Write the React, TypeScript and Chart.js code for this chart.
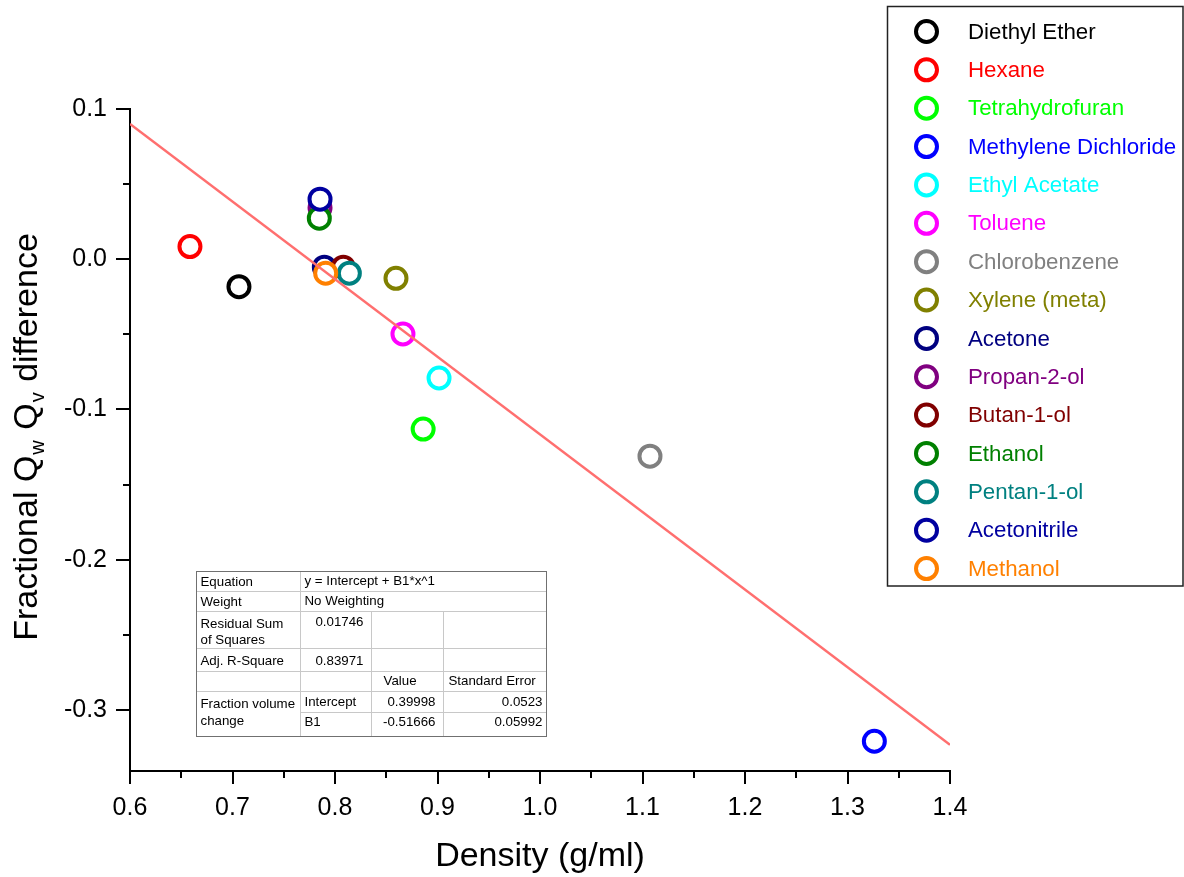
import React, { useEffect, useRef } from "react";
import { Chart, registerables } from "chart.js";

Chart.register(...registerables);

// ---------- data ----------
const SOLVENTS = [
  "Diethyl Ether",
  "Hexane",
  "Tetrahydrofuran",
  "Methylene Dichloride",
  "Ethyl Acetate",
  "Toluene",
  "Chlorobenzene",
  "Xylene (meta)",
  "Acetone",
  "Propan-2-ol",
  "Butan-1-ol",
  "Ethanol",
  "Pentan-1-ol",
  "Acetonitrile",
  "Methanol",
];
const DENSITY = [0.7063, 0.6585, 0.886, 1.3262, 0.9015, 0.8663, 1.1073, 0.8595, 0.7896, 0.7854, 0.8081, 0.7847, 0.814, 0.7854, 0.7909];
const FRACTION_DIFF = [-0.0183, 0.0084, -0.1131, -0.3209, -0.0791, -0.0498, -0.1311, -0.0127, -0.0053, 0.0342, -0.0053, 0.0273, -0.0093, 0.04, -0.0093];
const COLORS = [
  "#000000",
  "#FF0000",
  "#00FF00",
  "#0000FF",
  "#00FFFF",
  "#FF00FF",
  "#808080",
  "#808000",
  "#000080",
  "#800080",
  "#800000",
  "#008000",
  "#008080",
  "#0000A0",
  "#FF8000",
];
const FIT_X = [0.6, 1.4];
const FIT_Y = [0.09, -0.3233];
const X_TICKS = [0.6, 0.7, 0.8, 0.9, 1.0, 1.1, 1.2, 1.3, 1.4];
const Y_TICKS = [-0.3, -0.2, -0.1, 0.0, 0.1];
const X_MINOR = [0.65, 0.75, 0.85, 0.95, 1.05, 1.15, 1.25, 1.35];
const Y_MINOR = [-0.25, -0.15, -0.05, 0.05];
const X_TITLE = "Density (g/ml)";
const Y_TITLE_PARTS = [
  { t: "Fractional Q", sub: false },
  { t: "w", sub: true },
  { t: " Q", sub: false },
  { t: "v", sub: true },
  { t: " difference", sub: false },
];
const TABLE_EQUATION = "y = Intercept + B1*x^1";
const TABLE_WEIGHT = "No Weighting";
const TABLE_RSS = "0.01746";
const TABLE_ADJR2 = "0.83971";
const TABLE_INTERCEPT = ["0.39998", "0.0523"];
const TABLE_B1 = ["-0.51666", "0.05992"];

const FONT = '"Liberation Sans", Arial, Helvetica, sans-serif';

const decorPlugin = {
  id: "decor",
  afterDraw(chart: any) {
    const ctx = chart.ctx as CanvasRenderingContext2D;
    const xs = chart.scales.x;
    const ys = chart.scales.y;
    const area = chart.chartArea;
    ctx.save();

    // tick marks (outward)
    ctx.strokeStyle = "#000";
    ctx.lineWidth = 2;
    const drawX = (v: number, len: number) => {
      const px = Math.round(xs.getPixelForValue(v));
      ctx.beginPath();
      ctx.moveTo(px, area.bottom);
      ctx.lineTo(px, area.bottom + len);
      ctx.stroke();
    };
    const drawY = (v: number, len: number) => {
      const py = Math.round(ys.getPixelForValue(v));
      ctx.beginPath();
      ctx.moveTo(area.left, py);
      ctx.lineTo(area.left - len, py);
      ctx.stroke();
    };
    X_TICKS.forEach((v) => drawX(v, 13));
    X_MINOR.forEach((v) => drawX(v, 7));
    Y_TICKS.forEach((v) => drawY(v, 14));
    Y_MINOR.forEach((v) => drawY(v, 7));

    // y title with subscripts
    ctx.fillStyle = "#000";
    ctx.textBaseline = "alphabetic";
    ctx.textAlign = "left";
    const big = `34px ${FONT}`;
    const small = `20px ${FONT}`;
    let total = 0;
    Y_TITLE_PARTS.forEach((p) => {
      ctx.font = p.sub ? small : big;
      total += ctx.measureText(p.t).width + (p.sub ? 2 : 0);
    });
    ctx.translate(37, (area.top + area.bottom) / 2 - 3);
    ctx.rotate(-Math.PI / 2);
    let cx = -total / 2;
    Y_TITLE_PARTS.forEach((p) => {
      ctx.font = p.sub ? small : big;
      ctx.fillText(p.t, cx + (p.sub ? 1 : 0), p.sub ? 7 : 0);
      cx += ctx.measureText(p.t).width + (p.sub ? 2 : 0);
    });
    ctx.restore();

    // legend
    ctx.save();
    const lgL = 887.5, lgT = 6.5, lgR = 1183, lgB = 586;
    ctx.fillStyle = "#fff";
    ctx.fillRect(lgL, lgT, lgR - lgL, lgB - lgT);
    ctx.strokeStyle = "#222";
    ctx.lineWidth = 1.5;
    ctx.strokeRect(lgL, lgT, lgR - lgL, lgB - lgT);
    const items = chart.data.datasets.filter((d: any) => d.isSolvent);
    ctx.font = `22.3px ${FONT}`;
    ctx.textBaseline = "middle";
    items.forEach((d: any, i: number) => {
      const y = 31.5 + i * 38.36;
      ctx.beginPath();
      ctx.arc(926.5, y, 10.5, 0, Math.PI * 2);
      ctx.fillStyle = "#fff";
      ctx.fill();
      ctx.lineWidth = 4;
      ctx.strokeStyle = d.borderColor;
      ctx.stroke();
      ctx.fillStyle = d.borderColor;
      ctx.fillText(d.label, 968, y + 1);
    });
    ctx.restore();

    // fit table
    ctx.save();
    const L = 196.5, C1 = 300.5, C2 = 371.5, C3 = 443.5, R = 546.5;
    const T = 571.5, r1 = 591.5, r2 = 611.5, r3 = 648.5, r4 = 671.5, r5 = 691.5, r6 = 712.5, B = 736.5;
    ctx.fillStyle = "#fff";
    ctx.fillRect(L, T, R - L, B - T);
    ctx.strokeStyle = "#c8c8c8";
    ctx.lineWidth = 1;
    const line = (x1: number, y1: number, x2: number, y2: number) => {
      ctx.beginPath();
      ctx.moveTo(x1, y1);
      ctx.lineTo(x2, y2);
      ctx.stroke();
    };
    [r1, r2, r3, r4, r5].forEach((y) => line(L, y, R, y));
    line(C1, r6, R, r6);
    line(C1, T, C1, B);
    line(C2, r2, C2, B);
    line(C3, r2, C3, B);
    ctx.strokeStyle = "#707070";
    ctx.strokeRect(L, T, R - L, B - T);

    ctx.fillStyle = "#000";
    ctx.font = `13.3px ${FONT}`;
    ctx.textBaseline = "middle";
    ctx.textAlign = "left";
    ctx.fillText("Equation", L + 4, 582);
    ctx.fillText(TABLE_EQUATION, C1 + 4, 581);
    ctx.fillText("Weight", L + 4, 602);
    ctx.fillText(TABLE_WEIGHT, C1 + 4, 601);
    ctx.fillText("Residual Sum", L + 4, 624);
    ctx.fillText("of Squares", L + 4, 640);
    ctx.fillText("Adj. R-Square", L + 4, 661.5);
    ctx.fillText("Value", C2 + 12, 681.5);
    ctx.fillText("Standard Error", C3 + 5, 681.5);
    ctx.fillText("Fraction volume", L + 4, 704);
    ctx.fillText("change", L + 4, 721.5);
    ctx.fillText("Intercept", C1 + 4, 702);
    ctx.fillText("B1", C1 + 4, 722);
    ctx.textAlign = "right";
    ctx.fillText(TABLE_RSS, C2 - 8, 622);
    ctx.fillText(TABLE_ADJR2, C2 - 8, 661);
    ctx.fillText(TABLE_INTERCEPT[0], C3 - 8, 702);
    ctx.fillText(TABLE_INTERCEPT[1], R - 4, 702);
    ctx.fillText(TABLE_B1[0], C3 - 8, 722);
    ctx.fillText(TABLE_B1[1], R - 4, 722);
    ctx.restore();
  },
};

export default function App() {
  const ref = useRef<HTMLCanvasElement | null>(null);

  useEffect(() => {
    document.body.style.margin = "0";
    const canvas = ref.current;
    if (!canvas) return;

    const N = SOLVENTS.length;
    const solventSets = SOLVENTS.map((name, i) => ({
      label: name,
      isSolvent: true,
      data: [{ x: DENSITY[i], y: FRACTION_DIFF[i] }],
      borderColor: COLORS[i],
      backgroundColor: "#ffffff",
      pointRadius: 10.5,
      pointHoverRadius: 10.5,
      pointBorderWidth: 4,
      pointStyle: "circle",
      showLine: false,
      order: N - i,
    }));
    const fitSet = {
      label: "Linear fit",
      isSolvent: false,
      data: FIT_X.map((x, i) => ({ x, y: FIT_Y[i] })),
      borderColor: "#FF6F6F",
      backgroundColor: "#FF6F6F",
      borderWidth: 2.5,
      pointRadius: 0,
      showLine: true,
      order: 0,
    };

    const chart = new Chart(canvas, {
      type: "scatter",
      data: { datasets: [...solventSets, fitSet] as any },
      options: {
        responsive: false,
        animation: false,
        devicePixelRatio: 1,
        layout: { padding: { left: 0, top: 109, right: 234, bottom: 0 } },
        plugins: {
          legend: { display: false },
          tooltip: { enabled: false },
          title: { display: false },
        },
        scales: {
          x: {
            type: "linear",
            min: 0.6,
            max: 1.4,
            afterFit: (s: any) => {
              s.height = 106;
            },
            afterBuildTicks: (s: any) => {
              s.ticks = X_TICKS.map((v) => ({ value: v }));
            },
            grid: { display: false, drawTicks: false, tickLength: 0 },
            border: { display: true, color: "#000", width: 2 },
            ticks: {
              padding: 22,
              color: "#000",
              font: { family: FONT, size: 25 },
              maxRotation: 0,
              autoSkip: false,
              callback: (v: any) => Number(v).toFixed(1),
            },
            title: {
              display: true,
              text: X_TITLE,
              color: "#000",
              font: { family: FONT, size: 34 },
              padding: { top: 0, bottom: 0 },
            },
          },
          y: {
            type: "linear",
            min: -0.3407,
            max: 0.1,
            afterFit: (s: any) => {
              s.width = 130;
            },
            afterBuildTicks: (s: any) => {
              s.ticks = Y_TICKS.map((v) => ({ value: v }));
            },
            grid: { display: false, drawTicks: false, tickLength: 0 },
            border: { display: true, color: "#000", width: 2 },
            ticks: {
              padding: 23,
              color: "#000",
              font: { family: FONT, size: 25 },
              autoSkip: false,
              callback: (v: any) => Number(v).toFixed(1),
            },
          },
        },
      },
      plugins: [decorPlugin],
    });

    return () => chart.destroy();
  }, []);

  return (
    <div style={{ width: 1184, height: 877, background: "#fff" }}>
      <canvas ref={ref} width={1184} height={877} style={{ display: "block" }} />
    </div>
  );
}
